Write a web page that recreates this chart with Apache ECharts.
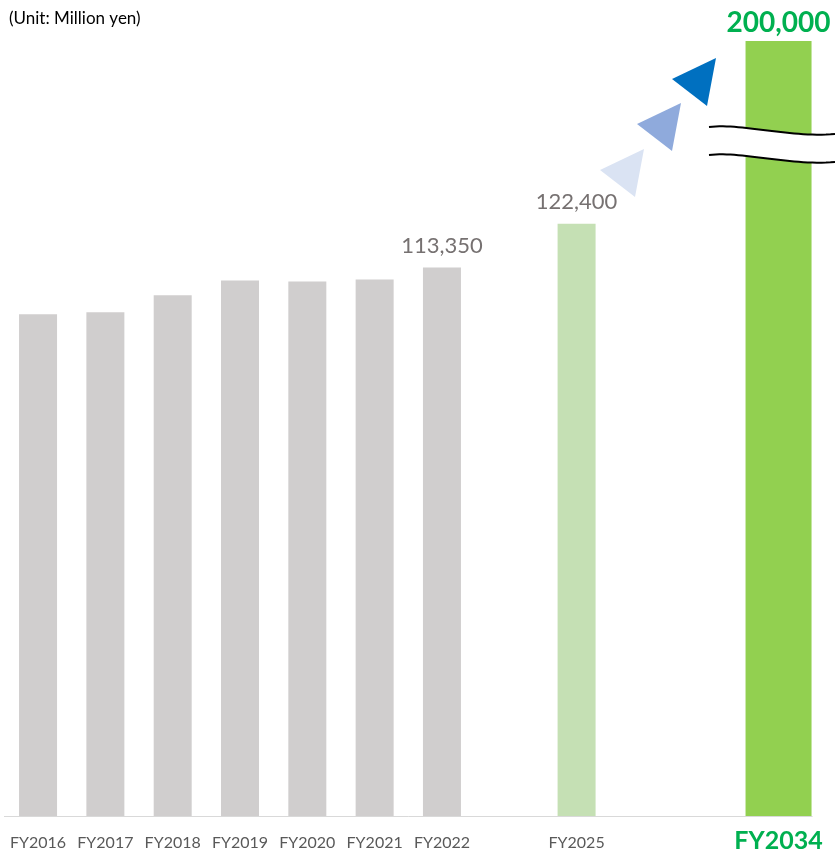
<!DOCTYPE html>
<html>
<head>
<meta charset="utf-8">
<script src="https://cdn.jsdelivr.net/npm/echarts@6/dist/echarts.min.js"></script>
<style>html,body{margin:0;padding:0;background:#fff}#c{width:835px;height:853px}</style>
</head>
<body>
<div id="c"></div>
<script>
// Data
var categories = ['FY2016','FY2017','FY2018','FY2019','FY2020','FY2021','FY2022','','FY2025','','','FY2034'];
var actualValues = [103700, 104110, 107600, 110680, 110470, 110890, 113350, null, null, null, null, null];
var planValues   = [null, null, null, null, null, null, null, null, 122400, null, null, null];
var targetValues = [null, null, null, null, null, null, null, null, null, null, null, 200000];
var labeledCategories = ['FY2022', 'FY2025', 'FY2034'];

var chart = echarts.init(document.getElementById('c'), null, {renderer: 'canvas'});
var FONT = 'Lato, "Open Sans", sans-serif';

function fmt(v) { return Number(v).toLocaleString('en-US'); }

var baseData = categories.map(function (c, i) {
  var v = actualValues[i] != null ? actualValues[i] : planValues[i];
  if (v == null) return '-';
  var isPlan = planValues[i] != null;
  return {
    value: v,
    itemStyle: {color: isPlan ? '#c5e0b4' : '#d0cece'},
    label: {show: labeledCategories.indexOf(c) >= 0}
  };
});
var targetData = categories.map(function (c, i) {
  return targetValues[i] == null ? '-' : {value: targetValues[i]};
});

// Bezier helper for the break decoration
function bez(p0, p1, p2, p3, n) {
  var pts = [];
  for (var k = 0; k <= n; k++) {
    var t = k / n, u = 1 - t;
    pts.push([
      u*u*u*p0[0] + 3*u*u*t*p1[0] + 3*u*t*t*p2[0] + t*t*t*p3[0],
      u*u*u*p0[1] + 3*u*u*t*p1[1] + 3*u*t*t*p2[1] + t*t*t*p3[1]
    ]);
  }
  return pts;
}
var top1 = bez([709,127],[742,123],[790,138],[835,134],30);
var bot1 = bez([709,155],[742,151],[790,166],[835,162],30);
var fillPts = top1.concat(bot1.slice().reverse());

chart.setOption({
  animation: false,
  title: {
    text: '(Unit: Million yen)', left: 4, top: 5,
    textStyle: {fontFamily: FONT, fontSize: 17, fontWeight: 'normal', color: '#000'}
  },
  grid: {left: 4.4, right: 22.8, top: 41, bottom: 32, containLabel: false},
  xAxis: [{
    type: 'category', data: categories,
    axisLine: {lineStyle: {color: '#d9d9d9', width: 1}},
    axisTick: {show: false},
    axisLabel: {
      interval: 0, margin: 19, color: '#595959', fontFamily: FONT, fontSize: 16,
      formatter: function (v) { return v === 'FY2034' ? '{big|' + v + '}' : v; },
      rich: {big: {color: '#00b050', fontFamily: FONT, fontSize: 25, fontWeight: 'bold', padding: [-7,0,0,0]}}
    }
  }, {
    type: 'category', data: categories, show: false
  }],
  yAxis: {
    type: 'value', min: 0, max: 200000,
    axisLabel: {show: false}, axisLine: {show: false}, axisTick: {show: false}, splitLine: {show: false},
    breaks: [{start: 136140, end: 181720, gap: 5750}],
    breakArea: {show: false, itemStyle: {color: 'rgba(0,0,0,0)', borderColor: 'rgba(0,0,0,0)', borderWidth: 0, opacity: 0}}
  },
  series: [{
    type: 'bar', xAxisIndex: 0, barWidth: 38, data: baseData,
    label: {position: 'top', distance: 11, color: '#767171', fontFamily: FONT, fontSize: 22, formatter: function (p) { return fmt(p.value); }}
  }, {
    type: 'bar', xAxisIndex: 1, barWidth: 66, data: targetData,
    itemStyle: {color: '#92d050'},
    label: {show: true, position: 'top', distance: 4, color: '#00b050', fontFamily: FONT, fontSize: 28, fontWeight: 'bold', formatter: function (p) { return fmt(p.value); }}
  }],
  graphic: [
    {type: 'polygon', shape: {points: fillPts}, style: {fill: '#fff'}, z: 100},
    {type: 'polyline', shape: {points: top1}, style: {stroke: '#000', lineWidth: 2, fill: null}, z: 101},
    {type: 'polyline', shape: {points: bot1}, style: {stroke: '#000', lineWidth: 2, fill: null}, z: 101},
    {type: 'polygon', shape: {points: [[600,170],[644,149],[635,197]]}, style: {fill: '#dae3f3'}, z: 100},
    {type: 'polygon', shape: {points: [[637,124],[681,103],[672,151]]}, style: {fill: '#8faadc'}, z: 100},
    {type: 'polygon', shape: {points: [[672,79],[716,58],[707,106]]}, style: {fill: '#0070c0'}, z: 100}
  ]
});
</script>
</body>
</html>
